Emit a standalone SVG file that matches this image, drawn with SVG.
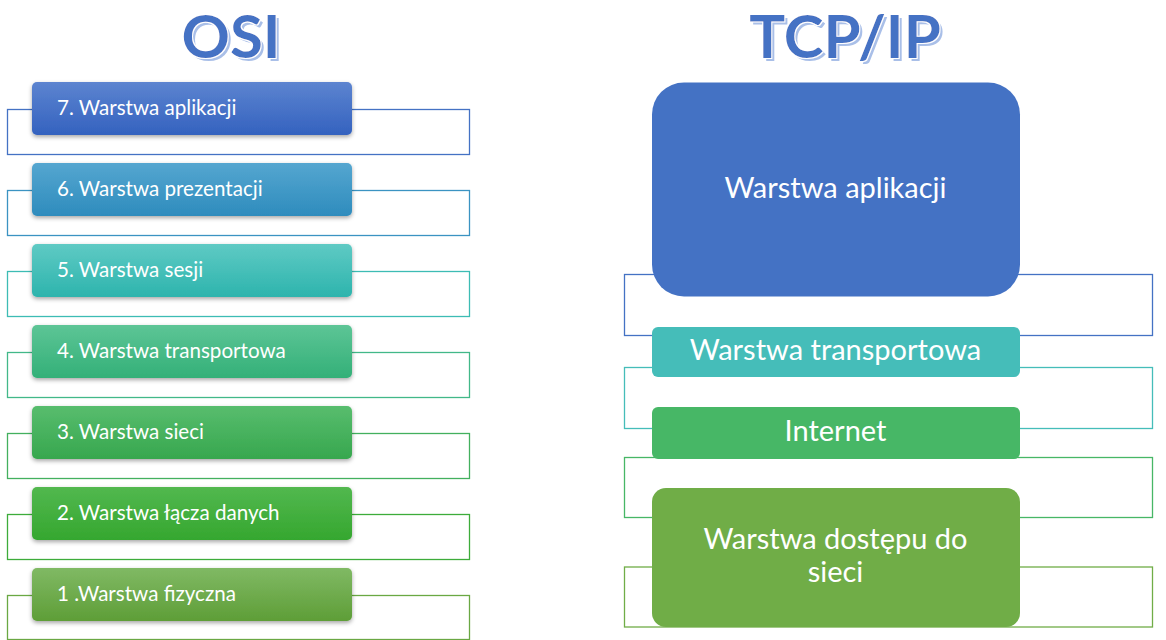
<svg xmlns="http://www.w3.org/2000/svg" width="1166" height="640" viewBox="0 0 1166 640">
<style>
.osi{font-family:Lato,"Open Sans",sans-serif;font-size:20.6px;fill:#ffffff}
.tcp{font-family:Lato,"Open Sans",sans-serif;font-size:29px;fill:#ffffff;text-anchor:middle}
.title{font-family:Lato,"Open Sans",sans-serif;font-weight:bold;font-size:60px;text-anchor:middle;fill:#4472C4}
.ol{fill:none;stroke-width:1.3}
</style>
<defs>
<filter id="ds" x="-10%" y="-20%" width="120%" height="160%">
<feDropShadow dx="0" dy="2" stdDeviation="2" flood-color="#000" flood-opacity="0.35"/>
</filter>
<filter id="tf" x="-10%" y="-10%" width="120%" height="130%">
<feOffset in="SourceAlpha" dx="2.5" dy="2.5" result="off"/>
<feFlood flood-color="#a9bfe8"/>
<feComposite in2="off" operator="in" result="shadow"/>
<feMorphology in="SourceAlpha" operator="dilate" radius="1" result="dil"/>
<feFlood flood-color="#ffffff"/>
<feComposite in2="dil" operator="in" result="halo"/>
<feMerge><feMergeNode in="shadow"/><feMergeNode in="halo"/><feMergeNode in="SourceGraphic"/></feMerge>
</filter>
<linearGradient id="g7" x1="0" y1="0" x2="0" y2="1"><stop offset="0" stop-color="#5c84d0"/><stop offset="1" stop-color="#3462bf"/></linearGradient>
<linearGradient id="g6" x1="0" y1="0" x2="0" y2="1"><stop offset="0" stop-color="#55a6d0"/><stop offset="1" stop-color="#2e8cbd"/></linearGradient>
<linearGradient id="g5" x1="0" y1="0" x2="0" y2="1"><stop offset="0" stop-color="#5fcac4"/><stop offset="1" stop-color="#2db4ad"/></linearGradient>
<linearGradient id="g4" x1="0" y1="0" x2="0" y2="1"><stop offset="0" stop-color="#5dc596"/><stop offset="1" stop-color="#33b078"/></linearGradient>
<linearGradient id="g3" x1="0" y1="0" x2="0" y2="1"><stop offset="0" stop-color="#58bd6e"/><stop offset="1" stop-color="#37a74e"/></linearGradient>
<linearGradient id="g2" x1="0" y1="0" x2="0" y2="1"><stop offset="0" stop-color="#52b84f"/><stop offset="1" stop-color="#35a72f"/></linearGradient>
<linearGradient id="g1" x1="0" y1="0" x2="0" y2="1"><stop offset="0" stop-color="#80b964"/><stop offset="1" stop-color="#5e9e37"/></linearGradient>
</defs>
<rect width="1166" height="640" fill="#ffffff"/>

<g id="title-osi">
<text class="title" x="231" y="58" filter="url(#tf)">OSI</text>
</g>
<g id="title-tcpip">
<text class="title" x="845" y="58" filter="url(#tf)">TCP/IP</text>
</g>

<g id="connectors">
<rect class="ol" x="7.5" y="109.5" width="462" height="45" stroke="#4472C4"/>
<rect class="ol" x="7.5" y="190.5" width="462" height="45" stroke="#3b93c2"/>
<rect class="ol" x="7.5" y="271.5" width="462" height="45" stroke="#3dbcb4"/>
<rect class="ol" x="7.5" y="352.5" width="462" height="45" stroke="#42b889"/>
<rect class="ol" x="7.5" y="433.5" width="462" height="45" stroke="#43b05e"/>
<rect class="ol" x="7.5" y="514.5" width="462" height="45" stroke="#3dac3a"/>
<rect class="ol" x="7.5" y="595.5" width="462" height="44" stroke="#6aa843"/>

<rect class="ol" x="624.5" y="274.5" width="528" height="61" stroke="#4472C4"/>
<rect class="ol" x="624.5" y="367.5" width="528" height="61" stroke="#45BDB9"/>
<rect class="ol" x="624.5" y="457.5" width="528" height="60" stroke="#47B766"/>
<rect class="ol" x="624.5" y="567" width="528" height="60" stroke="#70AD47"/>
</g>

<g id="osi-7">
<rect x="32" y="82" width="320" height="53" rx="5" fill="url(#g7)" filter="url(#ds)"/>
<text class="osi" x="57" y="115">7. Warstwa aplikacji</text>
</g>
<g id="osi-6">
<rect x="32" y="163" width="320" height="53" rx="5" fill="url(#g6)" filter="url(#ds)"/>
<text class="osi" x="57" y="196">6. Warstwa prezentacji</text>
</g>
<g id="osi-5">
<rect x="32" y="244" width="320" height="53" rx="5" fill="url(#g5)" filter="url(#ds)"/>
<text class="osi" x="57" y="277">5. Warstwa sesji</text>
</g>
<g id="osi-4">
<rect x="32" y="325" width="320" height="53" rx="5" fill="url(#g4)" filter="url(#ds)"/>
<text class="osi" x="57" y="358">4. Warstwa transportowa</text>
</g>
<g id="osi-3">
<rect x="32" y="406" width="320" height="53" rx="5" fill="url(#g3)" filter="url(#ds)"/>
<text class="osi" x="57" y="439">3. Warstwa sieci</text>
</g>
<g id="osi-2">
<rect x="32" y="487" width="320" height="53" rx="5" fill="url(#g2)" filter="url(#ds)"/>
<text class="osi" x="57" y="520">2. Warstwa łącza danych</text>
</g>
<g id="osi-1">
<rect x="32" y="568" width="320" height="53" rx="5" fill="url(#g1)" filter="url(#ds)"/>
<text class="osi" x="57" y="601">1 .Warstwa fizyczna</text>
</g>

<g id="tcp-app">
<rect x="652" y="82.5" width="368" height="214" rx="32" fill="#4472C4"/>
<text class="tcp" x="835.5" y="198">Warstwa aplikacji</text>
</g>
<g id="tcp-transport">
<rect x="652" y="327" width="368" height="50" rx="6" fill="#45BDB9"/>
<text class="tcp" x="835.5" y="360">Warstwa transportowa</text>
</g>
<g id="tcp-internet">
<rect x="652" y="407" width="368" height="52" rx="6" fill="#47B766"/>
<text class="tcp" x="835.5" y="441">Internet</text>
</g>
<g id="tcp-access">
<rect x="652" y="488" width="368" height="139" rx="14" fill="#70AD47"/>
<text class="tcp" x="835.5" y="548.5">Warstwa dostępu do</text>
<text class="tcp" x="835.5" y="581.5">sieci</text>
</g>
</svg>
